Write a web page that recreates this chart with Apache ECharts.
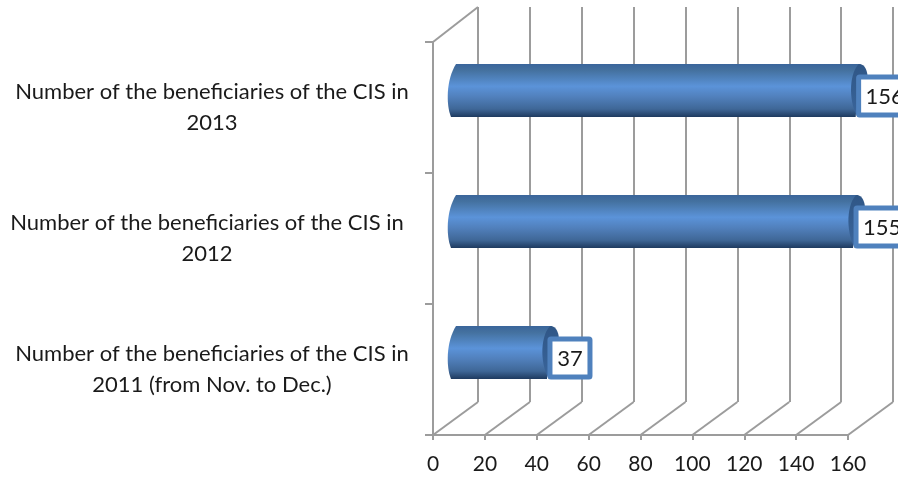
<!DOCTYPE html>
<html><head><meta charset="utf-8">
<style>html,body{margin:0;padding:0;background:#fff}#c{width:898px;height:478px}</style>
<script src="https://cdn.jsdelivr.net/npm/echarts@6/dist/echarts.min.js"></script>
</head><body><div id="c"></div>
<script>
const categories = [
  "Number of the beneficiaries of the CIS in\n2011 (from Nov. to Dec.)",
  "Number of the beneficiaries of the CIS in\n2012",
  "Number of the beneficiaries of the CIS in\n2013"
];
const values = [37, 155, 156];
const ticks = [0, 20, 40, 60, 80, 100, 120, 140, 160];

const DX = 22, DY = -17, BACK_DX = 45, BACK_DY = -33, BAR_H = 53;
const LINE = '#9c9c9c', FONT = 'Lato, "Open Sans", sans-serif';
const chart = echarts.init(document.getElementById('c'));

function renderBar(params, api) {
  const v = api.value(0), c = api.value(1);
  const p0 = api.coord([0, c]), p1 = api.coord([v, c]);
  const x0 = p0[0] + DX, x1 = p1[0] + DX, cy = p0[1] + DY;
  const t = cy - BAR_H / 2, b = cy + BAR_H / 2;
  const grad = new echarts.graphic.LinearGradient(0, 0, 0, 1, [
    {offset: 0, color: '#3a659b'}, {offset: 0.12, color: '#44719f'},
    {offset: 0.42, color: '#5b93d9'}, {offset: 0.62, color: '#5180bc'},
    {offset: 0.85, color: '#3f6797'}, {offset: 1, color: '#1e3a5f'}]);
  const capGrad = new echarts.graphic.LinearGradient(0, 0, 0, 1, [
    {offset: 0, color: '#2f5686'}, {offset: 1, color: '#3a659b'}]);
  const body = `M${x0 + 1} ${t} L${x1 + 1} ${t} L${x1 - 4} ${b} L${x0 - 4} ${b}` +
    ` C${x0 - 9} ${b - 12} ${x0 - 9} ${t + 16} ${x0 + 1} ${t} Z`;
  const cap = `M${x1 - 1} ${t} C${x1 + 6} ${t} ${x1 + 8} ${t + 8} ${x1 + 8} ${t + 14}` +
    ` L${x1 - 2} ${b} C${x1 - 10} ${b - 12} ${x1 - 12} ${t + 12} ${x1 - 1} ${t} Z`;
  const text = String(v);
  const w = 16 + 12 * text.length;
  const lx = p1[0] + 21, ly = cy - 13.5;
  return {type: 'group', children: [
    {type: 'path', shape: {pathData: body}, style: {fill: grad}},
    {type: 'path', shape: {pathData: cap}, style: {fill: capGrad}},
    {type: 'rect', shape: {x: lx, y: ly, width: w, height: 38, r: 1},
      style: {fill: '#fff', stroke: '#4f81bd', lineWidth: 5}},
    {type: 'text', style: {x: lx + w / 2, y: ly + 19.5, text: text, align: 'center', verticalAlign: 'middle',
      fill: '#1a1a1a', font: '22px ' + FONT}}
  ]};
}

function renderFloor(params, api) {
  const p = api.coord([api.value(0), 0]);
  const size = api.size([0, 1])[1];
  const bottom = p[1] + size / 2;
  return {type: 'line', shape: {x1: p[0], y1: bottom, x2: p[0] + BACK_DX, y2: bottom + BACK_DY},
    style: {stroke: LINE, lineWidth: 2}};
}

function renderWall(params, api) {
  const p = api.coord([0, categories.length - 1]);
  const size = api.size([0, 1])[1];
  const top = p[1] - size / 2;
  return {type: 'line', shape: {x1: p[0], y1: top, x2: p[0] + BACK_DX, y2: top - 35},
    style: {stroke: LINE, lineWidth: 2}};
}

chart.setOption({
  animation: false,
  backgroundColor: '#fff',
  grid: [
    {left: 433, right: 50, top: 42, bottom: 43, outerBoundsMode: 'none'},
    {left: 478, right: 5, top: 7, bottom: 76, outerBoundsMode: 'none'}
  ],
  xAxis: [
    {type: 'value', gridIndex: 0, min: 0, max: 160, interval: 20,
      axisLine: {show: true, lineStyle: {color: LINE, width: 2}},
      axisTick: {show: true, length: 5, lineStyle: {color: LINE, width: 2}},
      splitLine: {show: false},
      axisLabel: {color: '#1a1a1a', fontSize: 21, fontFamily: FONT, margin: 19, hideOverlap: false}},
    {type: 'value', gridIndex: 1, min: 0, max: 160, interval: 20,
      axisLine: {show: false}, axisTick: {show: false}, axisLabel: {show: false},
      splitLine: {show: true, lineStyle: {color: LINE, width: 2}}}
  ],
  yAxis: [
    {type: 'category', gridIndex: 0,
      data: categories.map((c, i) => i === 1
        ? {value: c, textStyle: {align: 'center', padding: [0, 10, 0, 0]}} : c),
      axisLine: {show: true, lineStyle: {color: LINE, width: 2}},
      axisTick: {show: true, length: 8, lineStyle: {color: LINE, width: 2}},
      axisLabel: {color: '#1a1a1a', fontSize: 22, fontFamily: FONT, lineHeight: 31,
        align: 'center', margin: 221, interval: 0}},
    {type: 'value', gridIndex: 1, min: 0, max: 1, show: false}
  ],
  series: [
    {type: 'custom', xAxisIndex: 0, yAxisIndex: 0, z: 2, silent: true,
      renderItem: renderFloor, data: ticks.map(t => [t]), encode: {x: 0}},
    {type: 'custom', xAxisIndex: 0, yAxisIndex: 0, z: 2, silent: true,
      renderItem: renderWall, data: [[0]], encode: {x: 0}},
    {type: 'custom', xAxisIndex: 0, yAxisIndex: 0, z: 5, silent: true,
      renderItem: renderBar, data: values.map((v, i) => [v, i]), encode: {x: 0, y: 1}}
  ]
});
</script></body></html>
